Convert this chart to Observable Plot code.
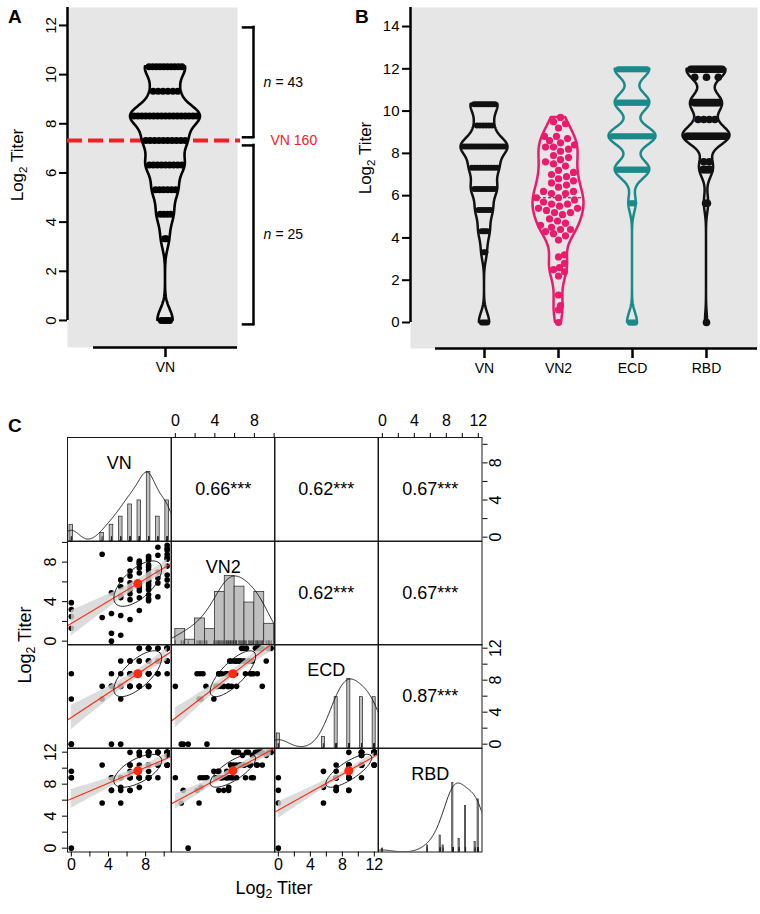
<!DOCTYPE html>
<html><head><meta charset="utf-8">
<script src="https://cdn.jsdelivr.net/npm/d3@7"></script>
<script src="https://cdn.jsdelivr.net/npm/@observablehq/plot@0.6"></script>
<style>
html,body{margin:0;padding:0;background:#fff;}
#root{position:relative;width:760px;height:914px;overflow:hidden;background:#fff;font-family:"Liberation Sans",Arial,Helvetica,sans-serif;color:#000;}
.tag{position:absolute;font-weight:bold;font-size:19px;line-height:1;}
.ttl{position:absolute;white-space:nowrap;line-height:1;transform:translate(-50%,-50%);}
.ttl.rot{transform:translate(-50%,-50%) rotate(-90deg);}
.ttl sub{font-size:68%;vertical-align:baseline;position:relative;top:0.35em;}
</style></head>
<body><div id="root"></div>
<script>
// ================= DATA =================
const variables = ["VN", "VN2", "ECD", "RBD"];
// paired log2 titers, one entry per sample
const vn = [0,0,0,0,
  3.32,3.32,
  4.32,4.32,4.32,4.32,
  5.32,5.32,5.32,5.32,5.32,5.32,
  6.32,6.32,6.32,6.32,6.32,6.32,6.32,6.32,6.32,
  7.32,7.32,7.32,7.32,7.32,7.32,7.32,7.32,7.32,7.32,
  8.32,8.32,8.32,8.32,8.32,8.32,8.32,8.32,8.32,8.32,8.32,8.32,8.32,8.32,8.32,8.32,8.32,
  9.32,9.32,9.32,9.32,9.32,9.32,
  10.32,10.32,10.32,10.32,10.32,10.32,10.32,10.32,10.32,10.32];
const vn2 = [3.9,3.2,1.3,2.5,
  8.8,2.4,
  0.8,0.0,4.9,2.8,
  0.6,6.2,4.4,4.6,5.5,2.6,
  8.3,4.2,5.2,6.6,5.4,7.1,4.8,5.9,2.2,
  3.1,5.1,7.9,7.4,5.7,6.9,4.4,7.8,5.4,8.1,
  4.1,5.6,6.1,7.2,8.4,4.7,5.3,6.5,7.7,8.6,5.8,6.8,4.3,8.2,6.1,7.5,5.2,
  6.4,8.7,4.5,7.0,9.5,5.9,
  9.7,8.5,9.2,6.7,8.8,5.6,9.4,7.6,8.3,6.2];
const ecd = [5.64,0,0,8.81,
  7.23,5.64,
  0,7.23,7.23,8.81,
  0,7.23,8.81,7.23,10.4,5.64,
  8.81,7.23,8.81,10.4,7.23,8.81,7.23,10.4,8.81,
  7.23,8.81,8.81,10.4,7.23,11.98,8.81,10.4,7.23,11.98,
  7.23,8.81,10.4,11.98,11.98,8.81,7.23,10.4,8.81,11.98,8.81,10.4,7.23,11.98,8.81,10.4,8.81,
  10.4,11.98,8.81,10.4,11.98,8.81,
  11.98,11.98,10.4,11.98,11.98,10.4,11.98,8.81,11.98,10.4];
const rbd = [9.6,8.81,0,8.81,
  10.4,5.64,
  7.23,8.81,7.23,8.81,
  5.64,8.81,7.23,8.81,8.81,7.6,
  10.4,8.81,9.6,10.4,7.23,8.81,8.81,11.98,7.23,
  8.81,8.81,8.81,11.98,8.81,10.4,9.6,11.6,7.6,11.98,
  8.81,10.4,11.98,11.98,11.98,8.81,8.81,10.4,8.81,11.98,8.81,11.6,9.6,10.4,11.98,10.4,8.81,
  11.98,11.98,8.81,10.4,11.98,10.4,
  11.98,11.98,11.6,10.4,11.98,10.4,11.98,10.4,11.98,10.4];
const thresholdTiter = 160;
const thresholdLabel = "VN 160";
const groupCounts = [43, 25];                 // above / below VN 160
const bracketSpans = [[7.45, 11.92], [-0.16, 7.12]];
const corrLabels = ["0.66***", "0.62***", "0.67***", "0.62***", "0.67***", "0.87***"]; // upper cells, row-major
const yTicksA = [0, 2, 4, 6, 8, 10, 12];
const yTicksB = [0, 2, 4, 6, 8, 10, 12, 14];
const matrixTicks = {VN: [0,2,4,6,8,10], VN2: [0,2,4,6,8,10], ECD: [0,2,4,6,8,10,12], RBD: [0,2,4,6,8,10,12]};
const series = {VN: vn, VN2: vn2, ECD: ecd, RBD: rbd};

// ================= HELPERS =================
const FONT = "Liberation Sans, Arial, Helvetica, sans-serif";
const root = document.getElementById("root");
function place(el, left, top) {
  el.style.position = "absolute"; el.style.left = left + "px"; el.style.top = top + "px";
  root.appendChild(el);
}
function html(cls, content, left, top, extra) {
  const d = document.createElement("div");
  d.className = cls; d.innerHTML = content;
  d.style.left = left + "px"; d.style.top = top + "px";
  if (extra) Object.assign(d.style, extra);
  root.appendChild(d);
}
function kdeSum(values, bw, y) {
  let s = 0;
  for (const v of values) { const z = (y - v) / bw; s += Math.exp(-0.5 * z * z); }
  return s;
}
function violin(values, bw, maxHalf) {
  const lo = d3.min(values), hi = d3.max(values), n = 240;
  const pts = d3.range(n + 1).map(k => { const y = lo + (hi - lo) * k / n; return {y, d: kdeSum(values, bw, y)}; });
  const m = d3.max(pts, p => p.d);
  pts.forEach(p => p.w = p.d / m * maxHalf);
  return {pts, halfAt: y => kdeSum(values, bw, y) / m * maxHalf};
}
function bandDots(values, halfAt, r) {
  const out = [];
  for (const [v, arr] of d3.group(values, v => v)) {
    const n = arr.length;
    const spread = n === 1 ? 0 : Math.max(halfAt(v) - r, (n - 1) * 0.9);
    arr.forEach((_, k) => out.push({y: v, dx: n === 1 ? 0 : -spread + 2 * spread * k / (n - 1)}));
  }
  return out;
}
function swarm(values, halfAt, r, pxPerY) {
  const order = d3.range(values.length).sort((a, b) => values[a] - values[b]);
  const placed = [], out = [];
  for (const i of order) {
    const v = values[i];
    const lim = Math.max(halfAt(v) - r * 0.6, 0);
    let chosen = null, bestX = 0, bestD = -1;
    for (let k = 0; k <= Math.ceil(lim); k++) {
      for (const c of (k === 0 ? [0] : [k, -k])) {
        if (Math.abs(c) > lim + 1e-9) continue;
        let minD = Infinity;
        for (const p of placed) {
          const dy = (p.v - v) * pxPerY;
          if (Math.abs(dy) > 2 * r) continue;
          const d = Math.hypot(p.x - c, dy);
          if (d < minD) minD = d;
        }
        if (minD >= 2 * r * 1.05) { chosen = c; break; }
        if (minD > bestD) { bestD = minD; bestX = c; }
      }
      if (chosen !== null) break;
    }
    const x = chosen !== null ? chosen : bestX;
    placed.push({v, x});
    out.push({y: v, dx: x});
  }
  return out;
}
const baseStyle = {fontFamily: FONT, background: "transparent", overflow: "visible", color: "#000"};

// ================= PANEL A =================
(() => {
  const A = {width: 340, height: 380, ml: 67, mr: 103, mt: 7, mb: 33, xDom: [-98, 72], yDom: [-1.1, 12.73], maxHalf: 35, r: 3.5};
  const thr = Math.log2(thresholdTiter);
  const red = "#ec2227";
  const v = violin(vn, 0.45, A.maxHalf);
  const dots = bandDots(vn, v.halfAt, A.r);
  const bracketX = 88, nX = 98;
  const svg = Plot.plot({
    width: A.width, height: A.height,
    marginLeft: A.ml, marginRight: A.mr, marginTop: A.mt, marginBottom: A.mb,
    x: {domain: A.xDom, label: null}, y: {domain: A.yDom, label: null},
    style: baseStyle,
    marks: [
      Plot.frame({fill: "#e6e6e6", stroke: "none"}),
      Plot.ruleX([A.xDom[0]], {y1: 0, y2: A.yDom[1], strokeWidth: 2.5}),
      Plot.axisY({ticks: yTicksA, label: null, tickSize: 8, tickPadding: 4, tickRotate: -90, textAnchor: "middle", lineAnchor: "bottom", fontSize: 15, strokeWidth: 2}),
      Plot.ruleY([A.yDom[0]], {x1: -72, x2: 72, strokeWidth: 2.5}),
      Plot.axisX({ticks: [0], label: null, tickFormat: () => variables[0], tickSize: 10, tickPadding: 5, fontSize: 14, strokeWidth: 2.5}),
      Plot.ruleY([thr], {x1: A.xDom[0], x2: 75, stroke: red, strokeWidth: 4, strokeDasharray: "15,6"}),
      Plot.areaX(v.pts, {y: "y", x1: p => -p.w, x2: p => p.w, fill: "none", stroke: "#000", strokeWidth: 2.6, strokeLinejoin: "round"}),
      Plot.dot(dots, {x: "dx", y: "y", r: A.r, fill: "#000"}),
      Plot.text([thresholdLabel], {x: 105, y: thr, text: d => d, fill: red, textAnchor: "start", fontSize: 14}),
      Plot.ruleX(bracketSpans, {x: bracketX, y1: d => d[0], y2: d => d[1], strokeWidth: 2.5, strokeLinecap: "square"}),
      Plot.ruleY(bracketSpans.flat(), {y: d => d, x1: bracketX - 10, x2: bracketX, strokeWidth: 2.5, strokeLinecap: "square"}),
      Plot.text(bracketSpans, {x: nX, y: d => (d[0] + d[1]) / 2, text: () => "n", fontStyle: "italic", textAnchor: "start", fontSize: 14}),
      Plot.text(bracketSpans, {x: nX, y: d => (d[0] + d[1]) / 2, text: (d, i) => "= " + groupCounts[i], dx: 12, textAnchor: "start", fontSize: 14})
    ]
  });
  place(svg, 0, 0);
})();

// ================= PANEL B =================
(() => {
  const B = {width: 420, height: 390, ml: 70, mr: 3, mt: 7, mb: 42, xDom: [0, 347], yDom: [-1.23, 14.9], catSpacing: 74};
  const pxPerY = (B.height - B.mt - B.mb) / (B.yDom[1] - B.yDom[0]);
  const catX = variables.map((_, i) => (i + 1) * B.catSpacing);
  const bSeries = [vn, vn2, ecd, rbd];
  const bColors = ["#111111", "#ea1a6c", "#1a8a8a", "#111111"];
  const bRadius = [3, 3.6, 3.1, 3.8];
  const bBw = [0.45, 0.6, 0.45, 0.45];
  const bHalf = [23.5, 25.5, 23.5, 23.5];
  const medianColors = ["#111111", "#6b0d33", "#0c5454", "#2f52a8"];
  const medianWidths = [1.2, 1.2, 1.2, 4];
  const marks = [
    Plot.frame({fill: "#e6e6e6", stroke: "none"}),
    Plot.ruleX([B.xDom[0]], {y1: 0, y2: B.yDom[1], strokeWidth: 2.5}),
    Plot.axisY({ticks: yTicksB, label: null, tickSize: 8, tickPadding: 3, fontSize: 15, strokeWidth: 2}),
    Plot.ruleY([B.yDom[0]], {x1: catX[0] - 49, x2: B.xDom[1], strokeWidth: 2.5}),
    Plot.axisX({ticks: catX, label: null, tickFormat: d => variables[catX.indexOf(d)], tickSize: 10, tickPadding: 5, fontSize: 14, strokeWidth: 2.5})
  ];
  bSeries.forEach((vals, i) => {
    const v = violin(vals, bBw[i], bHalf[i]);
    marks.push(Plot.areaX(v.pts, {y: "y", x1: p => catX[i] - p.w, x2: p => catX[i] + p.w, fill: "none", stroke: bColors[i], strokeWidth: 2.5, strokeLinejoin: "round"}));
    const med = d3.median(vals);
    const medOpts = {x1: catX[i] - v.halfAt(med), x2: catX[i] + v.halfAt(med), stroke: medianColors[i], strokeWidth: medianWidths[i]};
    if (i !== 3) medOpts.strokeDasharray = "3,2";
    marks.push(Plot.ruleY([med], medOpts));
    const dots = i === 1 ? swarm(vals, v.halfAt, bRadius[i], pxPerY) : bandDots(vals, v.halfAt, bRadius[i]);
    marks.push(Plot.dot(dots, {x: d => catX[i] + d.dx, y: "y", r: bRadius[i], fill: bColors[i]}));
  });
  const svg = Plot.plot({
    width: B.width, height: B.height,
    marginLeft: B.ml, marginRight: B.mr, marginTop: B.mt, marginBottom: B.mb,
    x: {domain: B.xDom, label: null}, y: {domain: B.yDom, label: null},
    style: baseStyle, marks
  });
  place(svg, 340, 0);
})();

// ================= PANEL C =================
(() => {
  const cellSize = 103.5, origin = [67, 437], cm = 40;
  const dom = Object.fromEntries(variables.map(k => {
    const [a, b] = d3.extent(series[k]); const e = (b - a) * 0.04; return [k, [a - e, b + e]];
  }));
  const fmt4 = d => (d % 4 === 0 ? String(d) : "");
  const tCrit = 1.9966; // t(0.975, n-2)
  let upperK = 0;
  for (let i = 0; i < 4; i++) for (let j = 0; j < 4; j++) {
    const xv = variables[j], yv = variables[i];
    const X = series[xv], Y = series[yv];
    const marks = [];
    const yDomain = i === j ? [0, 1.5] : dom[yv];
    if (i === j) {
      const uniq = Array.from(new Set(X)).sort((a, b) => a - b);
      let bars;
      if (uniq.length < 11) {
        const counts = d3.rollup(X, g => g.length, d => d);
        const maxC = d3.max(counts.values());
        const ib = d3.min(d3.pairs(uniq), ([a, b]) => b - a) * (uniq.length - 1) / 41;
        bars = uniq.map(u => ({x1: u - ib, x2: u + ib, h: counts.get(u) / maxC}));
      } else {
        const nc = Math.ceil(Math.log2(X.length) + 1);
        const [lo, hi] = d3.nice(d3.min(X), d3.max(X), nc);
        const step = d3.tickStep(lo, hi, nc);
        const breaks = d3.range(lo, hi + step / 2, step);
        const counts = breaks.slice(1).map(() => 0);
        for (const v of X) counts[Math.max(0, Math.ceil((v - lo) / step - 1e-9) - 1)]++;
        const maxC = d3.max(counts);
        bars = counts.map((c, k) => ({x1: breaks[k], x2: breaks[k + 1], h: c / maxC}));
      }
      marks.push(Plot.rect(bars, {x1: "x1", x2: "x2", y1: 0, y2: "h", fill: "#bfbfbf", stroke: "#222", strokeWidth: 0.7}));
      const sd = d3.deviation(X), iqr = d3.quantile(X, 0.75) - d3.quantile(X, 0.25);
      const bw = 1.06 * Math.min(sd, iqr / 1.34) * Math.pow(X.length, -0.2) * 1.2;
      const dlo = d3.min(X) - 3 * bw, dhi = d3.max(X) + 3 * bw;
      const dens = d3.range(301).map(k => { const x = dlo + (dhi - dlo) * k / 300; return {x, y: kdeSum(X, bw, x)}; });
      const dm = d3.max(dens, d => d.y); dens.forEach(d => d.y /= dm);
      marks.push(Plot.line(dens, {x: "x", y: "y", stroke: "#111", strokeWidth: 0.9, clip: true}));
      marks.push(Plot.ruleX(X, {x: d => d, y1: 0, y2: 0.06, stroke: "#222", strokeWidth: 0.6}));
      marks.push(Plot.text([xv], {frameAnchor: "top", dy: 19, text: d => d, fontSize: 18}));
    } else if (j > i) {
      const lab = corrLabels[upperK++];
      marks.push(Plot.text([lab], {frameAnchor: "middle", text: d => d, fontSize: 18}));
    } else {
      const n = X.length, mx = d3.mean(X), my = d3.mean(Y);
      let sxx = 0, syy = 0, sxy = 0;
      for (let k = 0; k < n; k++) { const dx = X[k] - mx, dy = Y[k] - my; sxx += dx * dx; syy += dy * dy; sxy += dx * dy; }
      const b = sxy / sxx, a = my - b * mx, r = sxy / Math.sqrt(sxx * syy);
      const s = Math.sqrt((syy - b * sxy) / (n - 2));
      const xs = Math.sqrt(sxx / (n - 1)), ys = Math.sqrt(syy / (n - 1));
      const [xmin, xmax] = d3.extent(X);
      const band = d3.range(41).map(k => {
        const x = xmin + (xmax - xmin) * k / 40;
        const se = s * Math.sqrt(1 / n + (x - mx) ** 2 / sxx);
        const f = a + b * x;
        return {x, lo: f - tCrit * se, hi: f + tCrit * se};
      });
      const theta = (r > 0 ? 1 : r < 0 ? -1 : 1) / Math.SQRT2;
      const ell = d3.range(52).map(k => {
        const t = k * 2 * Math.PI / 51, c = Math.cos(t), sn = Math.sin(t);
        return {x: theta * (c * Math.sqrt(1 + r) - sn * Math.sqrt(1 - r)) * xs + mx,
                y: theta * (c * Math.sqrt(1 + r) + sn * Math.sqrt(1 - r)) * ys + my};
      });
      const ends = dom[xv].map(x => ({x, y: a + b * x}));
      marks.push(Plot.dot(d3.range(n), {x: k => X[k], y: k => Y[k], r: 2.8, fill: "#000"}));
      marks.push(Plot.areaY(band, {x: "x", y1: "lo", y2: "hi", fill: "#d3d3d3", fillOpacity: 0.8, clip: true}));
      marks.push(Plot.line(ends, {x: "x", y: "y", stroke: "#ff2a10", strokeWidth: 1.1, clip: true}));
      marks.push(Plot.line(ell, {x: "x", y: "y", stroke: "#111", strokeWidth: 0.9, clip: true}));
      marks.push(Plot.dot([{x: mx, y: my}], {x: "x", y: "y", r: 4.5, fill: "#ff2a10"}));
    }
    marks.push(Plot.frame({stroke: "#1a1a1a", strokeWidth: 1}));
    let hasX = false, hasY = false;
    if (i === 0 && j % 2 === 1) { hasX = true; marks.push(Plot.axisX({anchor: "top", label: null, ticks: matrixTicks[xv], tickFormat: fmt4, tickSize: 5, tickPadding: 7, fontSize: 16})); }
    if (i === 3 && j % 2 === 0) { hasX = true; marks.push(Plot.axisX({anchor: "bottom", label: null, ticks: matrixTicks[xv], tickFormat: fmt4, tickSize: 5, tickPadding: 2, fontSize: 16})); }
    if (j === 0 && i % 2 === 1) { hasY = true; marks.push(Plot.axisY({anchor: "left", label: null, ticks: matrixTicks[yv], tickFormat: fmt4, tickSize: 5, tickPadding: 7, tickRotate: -90, textAnchor: "middle", lineAnchor: "bottom", fontSize: 16})); }
    if (j === 3 && i % 2 === 0) { hasY = true; marks.push(Plot.axisY({anchor: "right", label: null, ticks: matrixTicks[yv], tickFormat: fmt4, tickSize: 5, tickPadding: 3, tickRotate: -90, textAnchor: "middle", lineAnchor: "top", fontSize: 16})); }
    const svg = Plot.plot({
      width: cellSize + 2 * cm, height: cellSize + 2 * cm,
      marginLeft: cm, marginRight: cm, marginTop: cm, marginBottom: cm,
      x: hasX ? {domain: dom[xv], label: null} : {domain: dom[xv], axis: null},
      y: hasY ? {domain: yDomain, label: null} : {domain: yDomain, axis: null},
      style: baseStyle, marks
    });
    place(svg, origin[0] + j * cellSize - cm, origin[1] + i * cellSize - cm);
  }
})();

// ================= TEXT OVERLAYS =================
html("tag", "A", 8, 7);
html("tag", "B", 355, 7);
html("tag", "C", 8, 416);
const titer = "Log<sub>2</sub> Titer";
html("ttl rot", titer, 17, 165, {fontSize: "17px"});
html("ttl rot", titer, 365, 158, {fontSize: "17px"});
html("ttl rot", titer, 25, 645, {fontSize: "18px"});
html("ttl", titer, 274, 888, {fontSize: "18px"});
</script>
</body></html>
